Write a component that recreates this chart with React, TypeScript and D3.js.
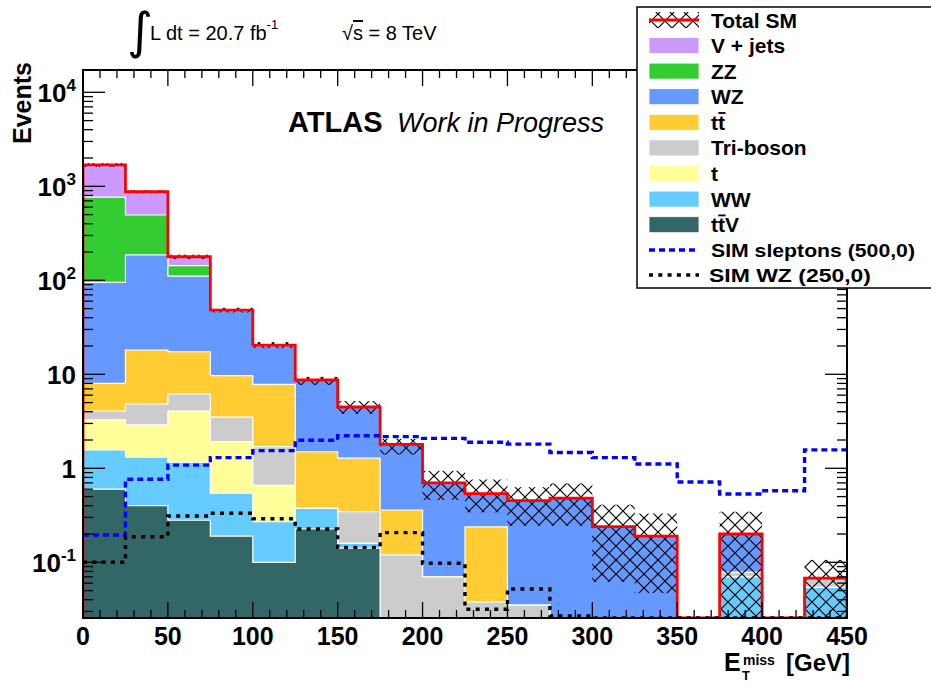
import React from 'react';
import * as d3 from 'd3';

// E_T^miss bin edges [GeV]
const binEdges = [0, 25, 50, 75, 100, 125, 150, 175, 200, 225, 250, 275, 300, 325, 350, 375, 400, 425, 450];

// Background expectations per bin (stack order bottom -> top)
const ttV = [0.60, 0.40, 0.28, 0.19, 0.10, 0.226, 0.141, 0, 0, 0, 0, 0, 0, 0, 0, 0, 0, 0];
const ww = [0.97, 0.91, 0.88, 0.355, 0.17, 0.149, 0.018, 0, 0, 0, 0, 0, 0, 0, 0, 0.070, 0, 0.054];
const singleTop = [1.70, 1.58, 2.91, 1.38, 0.39, 0, 0, 0, 0, 0, 0, 0, 0, 0, 0, 0, 0, 0];
const triBoson = [0.80, 1.94, 2.10, 1.57, 1.04, 0, 0.186, 0.12, 0.07, 0.038, 0.035, 0, 0, 0, 0, 0.008, 0, 0.014];
const ttbar = [3.95, 13.3, 11.2, 6.17, 6.13, 1.125, 0.935, 0.24, 0, 0.20, 0, 0, 0, 0, 0, 0, 0, 0];
const wz = [87.2, 168, 93.6, 37.8, 12.4, 7.2, 3.21, 1.44, 0.63, 0.30, 0.417, 0.48, 0.24, 0.19, 0, 0.122, 0, 0];
const zz = [671, 309, 32, 0.5, 0.25, 0, 0, 0, 0, 0, 0, 0, 0, 0, 0, 0, 0, 0];
const vJets = [920, 382, 35, 0.3, 0, 0, 0, 0, 0, 0, 0, 0, 0, 0, 0, 0, 0, 0];

// Total SM uncertainty band (upper / lower edges)
const bandHigh = [1770, 910, 188, 51, 22, 9.4, 5.2, 2.05, 0.94, 0.76, 0.63, 0.69, 0.41, 0.33, 0, 0.345, 0, 0.106];
const bandLow = [1610, 840, 168, 45.5, 19, 7.7, 3.8, 1.4, 0.46, 0.34, 0.245, 0.245, 0.062, 0.047, 0, 0, 0, 0];

// Signal samples
const sigSleptons = [0.195, 0.764, 1.08, 1.30, 1.54, 1.99, 2.22, 2.17, 2.08, 1.89, 1.81, 1.47, 1.30, 1.11, 0.715, 0.533, 0.578, 1.57];
const sigWZ = [0.10, 0.187, 0.311, 0.332, 0.291, 0.226, 0.144, 0.207, 0.0977, 0.0316, 0.052, 0.0268, 0, 0, 0, 0, 0, 0];

// Axis ticks
const xMajorTicks = [0, 50, 100, 150, 200, 250, 300, 350, 400, 450];
const yDecades = [0.01, 0.1, 1, 10, 100, 1000, 10000];
const yTickLabels = [
  { v: 10000, base: '10', exp: '4' },
  { v: 1000, base: '10', exp: '3' },
  { v: 100, base: '10', exp: '2' },
  { v: 10, base: '10', exp: '' },
  { v: 1, base: '1', exp: '' },
  { v: 0.1, base: '10', exp: '-1' },
];

const stackSeries = [
  { name: 'ttV', values: ttV, color: '#336666' },
  { name: 'WW', values: ww, color: '#66ccff' },
  { name: 't', values: singleTop, color: '#ffff99' },
  { name: 'Tri-boson', values: triBoson, color: '#cccccc' },
  { name: 'ttbar', values: ttbar, color: '#ffcc33' },
  { name: 'WZ', values: wz, color: '#6699ff' },
  { name: 'ZZ', values: zz, color: '#33cc33' },
  { name: 'V + jets', values: vJets, color: '#cc99ff' },
];

const FONT = '"Liberation Sans", Arial, Helvetica, sans-serif';

const X0 = 83, X1 = 847, Y0 = 618, Y1 = 70;

export default function App() {
  const x = d3.scaleLinear().domain([0, 450]).range([X0, X1]);
  const y = d3.scaleLog().domain([0.02555, 17270]).range([Y0, Y1]).clamp(true);
  const yv = (v: number) => (v > 0 ? y(v) : Y0);
  const nb = binEdges.length - 1;

  // cumulative stack values
  const cumulative: number[][] = [];
  stackSeries.forEach((s, k) => {
    cumulative.push(s.values.map((v, i) => v + (k > 0 ? cumulative[k - 1][i] : 0)));
  });
  const total = cumulative[cumulative.length - 1];

  const line = d3.line<[number, number]>();
  const stepPoints = (vals: number[], closeToAxis: boolean) => {
    const pts: [number, number][] = [];
    if (closeToAxis) pts.push([x(binEdges[0]), Y0]);
    for (let i = 0; i < nb; i++) {
      pts.push([x(binEdges[i]), yv(vals[i])]);
      pts.push([x(binEdges[i + 1]), yv(vals[i])]);
    }
    if (closeToAxis) pts.push([x(binEdges[nb]), Y0]);
    return pts;
  };

  const xMinor: number[] = d3.range(0, 451, 10);
  const yMinor: number[] = [];
  yDecades.forEach((d) => {
    for (let m = 2; m <= 9; m++) {
      const v = d * m;
      if (v >= 0.02555 && v <= 17270) yMinor.push(v);
    }
  });
  const yMajor = yDecades.filter((v) => v >= 0.02555 && v <= 17270);

  const legendRows = [
    { label: 'V + jets', color: '#cc99ff' },
    { label: 'ZZ', color: '#33cc33' },
    { label: 'WZ', color: '#6699ff' },
    { label: 'ttbar', color: '#ffcc33' },
    { label: 'Tri-boson', color: '#cccccc' },
    { label: 't', color: '#ffff99' },
    { label: 'WW', color: '#66ccff' },
    { label: 'ttV', color: '#336666' },
  ];

  // "t t-bar" style labels: plain text plus a bar over the second t
  const renderLabel = (label: string, baseY: number) => {
    if (label === 'ttbar' || label === 'ttV') {
      return (
        <g>
          <text x={711} y={baseY} fontSize={21} fontWeight="bold">{label === 'ttbar' ? 'tt' : 'ttV'}</text>
          <line x1={718.3} x2={725.6} y1={baseY - 16.8} y2={baseY - 16.8} stroke="#000" strokeWidth={1.8} />
        </g>
      );
    }
    return <text x={711} y={baseY} fontSize={21} fontWeight="bold">{label}</text>;
  };

  return (
    <svg width={931} height={684} style={{ position: 'absolute', left: 0, top: 0, background: '#fff' }} fontFamily={FONT}>
      <defs>
        <clipPath id="frameClip">
          <rect x={X0} y={Y1} width={X1 - X0} height={Y0 - Y1} />
        </clipPath>
        <pattern id="xhatch" width={14} height={14} patternUnits="userSpaceOnUse">
          <path d="M0,0 L14,14 M14,0 L0,14" stroke="#000" strokeWidth={1.2} fill="none" />
        </pattern>
      </defs>

      <g clipPath="url(#frameClip)">
        {/* stacked backgrounds, drawn from the full stack downwards */}
        {stackSeries.map((s, k) => k).reverse().map((k) => (
          <path key={stackSeries[k].name} d={line(stepPoints(cumulative[k], true)) + 'Z'}
            fill={stackSeries[k].color} stroke="#fff" strokeWidth={1.2} />
        ))}
        {/* uncertainty band */}
        {bandHigh.map((h, i) => (h > 0 ? (
          <rect key={i} x={x(binEdges[i])} width={x(binEdges[i + 1]) - x(binEdges[i])}
            y={yv(h)} height={yv(bandLow[i]) - yv(h)} fill="url(#xhatch)" />
        ) : null))}
        {/* total SM */}
        <path d={line(stepPoints(total, true)) ?? ''} fill="none" stroke="#ff0000" strokeWidth={2.8} />
        {/* signals */}
        <path d={line(stepPoints(sigSleptons, false)) ?? ''} fill="none" stroke="#0000ff" strokeWidth={3.4} strokeDasharray="6,4" />
        <path d={line(stepPoints(sigWZ, false)) ?? ''} fill="none" stroke="#000" strokeWidth={3.4} strokeDasharray="4,5.3" />
      </g>

      {/* axis ticks */}
      <g stroke="#000" strokeWidth={1.3}>
        {xMinor.map((v) => {
          const major = xMajorTicks.includes(v);
          const len = major ? 16 : 8;
          return (
            <g key={'xt' + v}>
              <line x1={x(v)} x2={x(v)} y1={Y0} y2={Y0 - len} />
              <line x1={x(v)} x2={x(v)} y1={Y1} y2={Y1 + len} />
            </g>
          );
        })}
        {yMinor.map((v) => (
          <g key={'ym' + v}>
            <line x1={X0} x2={X0 + 10} y1={y(v)} y2={y(v)} />
            <line x1={X1} x2={X1 - 10} y1={y(v)} y2={y(v)} />
          </g>
        ))}
        {yMajor.map((v) => (
          <g key={'yM' + v}>
            <line x1={X0} x2={X0 + 22} y1={y(v)} y2={y(v)} />
            <line x1={X1} x2={X1 - 22} y1={y(v)} y2={y(v)} />
          </g>
        ))}
      </g>
      <rect x={X0} y={Y1} width={X1 - X0} height={Y0 - Y1} fill="none" stroke="#000" strokeWidth={2} />

      {/* x tick labels */}
      {xMajorTicks.map((v) => (
        <text key={'xl' + v} x={x(v)} y={645} textAnchor="middle" fontSize={25} fontWeight="bold">{v}</text>
      ))}
      {/* y tick labels */}
      {yTickLabels.map((t) => (
        <text key={'yl' + t.v} x={76} y={y(t.v) + 9.5} textAnchor="end" fontSize={26} fontWeight="bold">
          {t.base}
          {t.exp ? <tspan fontSize={17} dy={-11}>{t.exp}</tspan> : null}
        </text>
      ))}

      {/* axis titles */}
      <text transform="translate(31,62) rotate(-90)" textAnchor="end" fontSize={25} fontWeight="bold">Events</text>
      <text x={724} y={671} fontSize={25} fontWeight="bold">E</text>
      <text x={742} y={680} fontSize={13} fontWeight="bold">T</text>
      <text x={743} y={665} fontSize={14} fontWeight="bold">miss</text>
      <text x={850} y={671} textAnchor="end" fontSize={24} fontWeight="bold">[GeV]</text>

      {/* header */}
      <text x={127} y={48} fontSize={50} fontFamily='"DejaVu Sans", sans-serif'>∫</text>
      <text x={150} y={40} fontSize={20}>L dt = 20.7 fb<tspan fontSize={13} dy={-11}>-1</tspan></text>
      <text x={342} y={40} fontSize={20}>√<tspan style={{ textDecoration: 'overline' }}>s</tspan> = 8 TeV</text>

      {/* ATLAS label */}
      <text x={288} y={132} fontSize={29} fontWeight="bold">ATLAS</text>
      <text x={397} y={132} fontSize={27} fontStyle="italic">Work in Progress</text>

      {/* legend */}
      <rect x={637} y={7} width={300} height={281} fill="#fff" stroke="#000" strokeWidth={1.5} />
      <rect x={649} y={12} width={50} height={16} fill="url(#xhatch)" />
      <line x1={649} x2={699} y1={20} y2={20} stroke="#ff0000" strokeWidth={2.8} />
      <text x={711} y={28} fontSize={21} fontWeight="bold">Total SM</text>
      {legendRows.map((r, i) => {
        const cy = 45.5 + i * 25.6;
        return (
          <g key={r.label}>
            <rect x={649} y={cy - 8} width={50} height={16} fill={r.color} stroke="#fff" strokeWidth={0.8} />
            {renderLabel(r.label, cy + 7.5)}
          </g>
        );
      })}
      <line x1={649} x2={699} y1={250} y2={250} stroke="#0000ff" strokeWidth={3.4} strokeDasharray="6,4" />
      <text x={711} y={256.5} fontSize={18} fontWeight="bold" textLength={204} lengthAdjust="spacingAndGlyphs">SIM sleptons (500,0)</text>
      <line x1={649} x2={699} y1={275} y2={275} stroke="#000" strokeWidth={3.4} strokeDasharray="4,5.3" />
      <text x={709} y={281.5} fontSize={18} fontWeight="bold" textLength={162} lengthAdjust="spacingAndGlyphs">SIM WZ (250,0)</text>
    </svg>
  );
}
